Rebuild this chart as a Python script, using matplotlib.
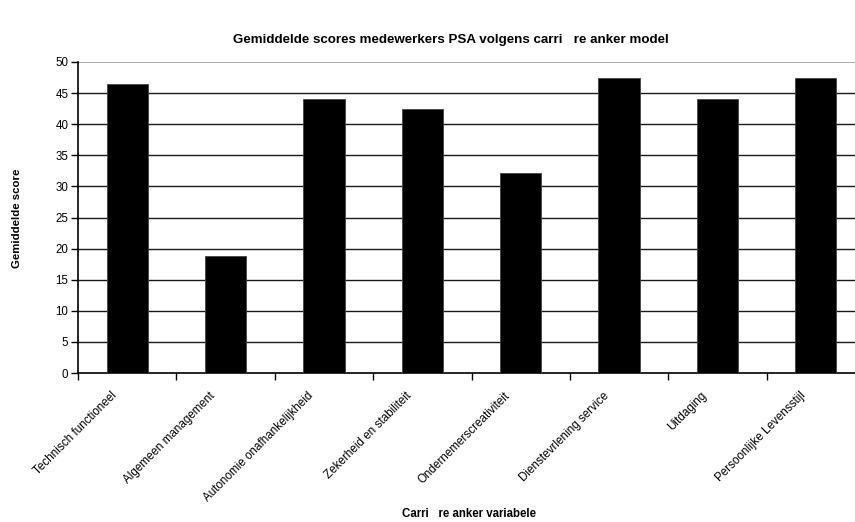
import matplotlib
matplotlib.use("Agg")
import matplotlib.pyplot as plt
import matplotlib.transforms as mtransforms
import numpy as np

plt.rcParams['font.family'] = ['Liberation Sans', 'DejaVu Sans']

categories = [
    "Technisch functioneel",
    "Algemeen management",
    "Autonomie onafhankelijkheid",
    "Zekerheid en stabiliteit",
    "Ondernemerscreativiteit",
    "Dienstevrlening service",
    "Uitdaging",
    "Persoonlijke Levensstijl",
]
scores = [46.5, 18.8, 44.0, 42.5, 32.2, 47.5, 44.0, 47.5]
y_ticks = [0, 5, 10, 15, 20, 25, 30, 35, 40, 45, 50]

title = "Gemiddelde scores medewerkers PSA volgens carri   re anker model"
xlabel = "Carri   re anker variabele"
ylabel = "Gemiddelde score"

fig = plt.figure(figsize=(8.55, 5.22), dpi=100)
# plot area runs slightly past the right edge of the figure
ax = fig.add_axes([78 / 855, 1 - 373 / 522, 787 / 855, 311 / 522])

x = np.arange(len(categories))
ax.bar(x, scores, width=0.42, color="black", edgecolor="#444444",
       linewidth=0.6, zorder=3)

ax.set_xlim(-0.5, len(categories) - 0.5)
ax.set_ylim(0, 50)

# horizontal gridlines
for v in y_ticks[1:-1]:
    ax.axhline(v, color="#1a1a1a", linewidth=1.0, zorder=1)
ax.axhline(50, color="#999999", linewidth=1.2, zorder=1)

ax.set_yticks(y_ticks)
ax.tick_params(axis="y", direction="out", length=5, width=1, labelsize=8.3,
               pad=2, color="black")

# tick marks between categories, labels centred under bars
ax.set_xticks(np.arange(-0.5, len(categories) + 0.5, 1.0), minor=True)
ax.set_xticks(x)
ax.set_xticklabels(categories, rotation=45, ha="right", va="top",
                   fontsize=8.4)
ax.tick_params(axis="x", which="major", length=0, pad=12)
ax.tick_params(axis="x", which="minor", direction="out", length=5,
               width=1, color="black")
shift = mtransforms.ScaledTranslation(-8 / 100, 0, fig.dpi_scale_trans)
for lab in ax.get_xticklabels():
    lab.set_transform(lab.get_transform() + shift)

for side in ["top", "right"]:
    ax.spines[side].set_visible(False)
ax.spines["left"].set_linewidth(1.2)
ax.spines["bottom"].set_linewidth(1.2)

fig.text(451 / 855, 1 - 40 / 522, title, ha="center", va="center",
         fontsize=9.6, fontweight="bold")
fig.text(469 / 855, 1 - 514 / 522, xlabel, ha="center", va="center",
         fontsize=8.3, fontweight="bold")
fig.text(17 / 855, 1 - 218 / 522, ylabel, ha="center", va="center",
         rotation=90, fontsize=8.2, fontweight="bold")

fig.savefig("out.png", dpi=100, facecolor="white")
